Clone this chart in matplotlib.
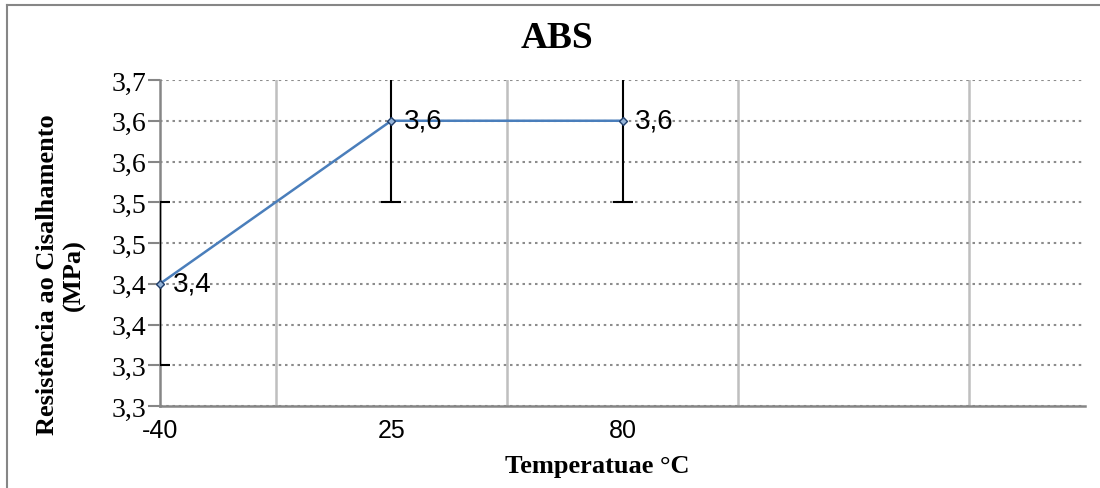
import matplotlib
matplotlib.use("Agg")
import matplotlib.pyplot as plt
from matplotlib.lines import Line2D
from decimal import Decimal, ROUND_HALF_UP

categories = ["-40", "25", "80"]
values = [3.40, 3.60, 3.60]
errors = [0.10, 0.10, 0.10]
data_labels = ["3,4", "3,6", "3,6"]
y_ticks = [3.25, 3.30, 3.35, 3.40, 3.45, 3.50, 3.55, 3.60, 3.65]

serif = ["Liberation Serif", "DejaVu Serif"]
sans = ["Liberation Sans", "DejaVu Sans"]

fig = plt.figure(figsize=(11, 4.89), dpi=100)
ax = fig.add_axes([160/1100, 1-407/489, (1085-160)/1100, (407-81)/489])

x = list(range(len(categories)))
ax.errorbar(x, values, yerr=errors, fmt="none", ecolor="black", elinewidth=1.5,
            capsize=7, capthick=1.5, zorder=3)
ax.plot(x, values, color="#4A7EBB", lw=1.8, zorder=4,
        marker="D", markersize=4.5, markerfacecolor="#95B3D7", markeredgecolor="#1F3E6B",
        markeredgewidth=1.0, clip_on=False)
for xi, v, lab in zip(x, values, data_labels):
    ax.annotate(lab, (xi, v), xytext=(9, 0), textcoords="offset points",
                ha="left", va="center", fontsize=20, family=sans, zorder=5)

ax.set_xlim(0, 4)
ax.set_ylim(3.25, 3.65)

def fmt(v):
    d = Decimal(str(v)).quantize(Decimal("0.1"), rounding=ROUND_HALF_UP)
    return str(d).replace(".", ",")

ax.set_yticks(y_ticks)
ax.set_yticklabels([fmt(v) for v in y_ticks], family=serif, fontsize=20)
ax.set_xticks(x)
ax.set_xticklabels(categories, family=sans, fontsize=18)
ax.set_xticks([0.5, 1.5, 2.5, 3.5], minor=True)
ax.tick_params(axis="x", which="both", length=0, pad=9)
ax.tick_params(axis="y", length=9, width=1.5, color="#868686", pad=1)

ax.grid(axis="y", which="major", color="#8C8C8C", linestyle=(0, (1.2, 1.8)), lw=1.5)
ax.grid(axis="x", which="minor", color="#BFBFBF", linestyle="-", lw=1.8)
ax.set_axisbelow(True)

for s in ["top", "right"]:
    ax.spines[s].set_visible(False)
ax.spines["left"].set_color("#868686")
ax.spines["left"].set_linewidth(1.8)
ax.spines["bottom"].set_color("#868686")
ax.spines["bottom"].set_linewidth(1.8)

fig.text(557/1100, 1-38/489, "ABS", ha="center", va="center", family=serif,
         fontsize=27, fontweight="bold")
fig.text(597/1100, 1-467/489, "Temperatuae °C", ha="center", va="center", family=serif,
         fontsize=19, fontweight="bold")
fig.text(61/1100, 1-275/489, "Resistência ao Cisalhamento\n(MPa)", ha="center", va="center",
         rotation=90, family=serif, fontsize=19, fontweight="bold", linespacing=1.2)

fig.add_artist(Line2D([7/1100, 1], [1-6/489, 1-6/489], color="#868686", lw=1.5,
                      transform=fig.transFigure))
fig.add_artist(Line2D([7/1100, 7/1100], [0, 1-6/489], color="#868686", lw=1.5,
                      transform=fig.transFigure))

fig.savefig("out.png", dpi=100)
